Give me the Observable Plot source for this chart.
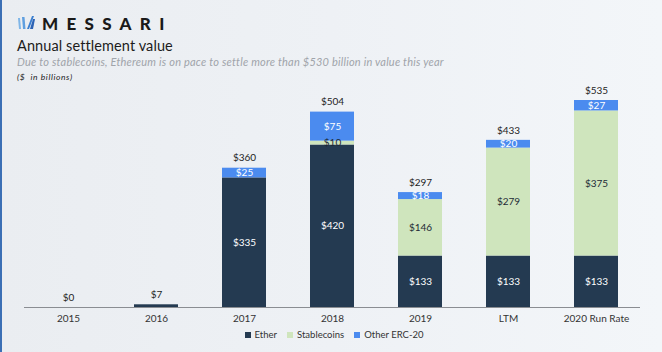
<!DOCTYPE html>
<html><head><meta charset="utf-8">
<script src="https://cdn.jsdelivr.net/npm/d3@7"></script>
<script src="https://cdn.jsdelivr.net/npm/@observablehq/plot@0.6"></script>
<style>
html,body{margin:0;padding:0;}
body{width:662px;height:352px;overflow:hidden;font-family:Lato,"DejaVu Sans",sans-serif;
 background:linear-gradient(90deg,#eaedf1 0%,#eef1f5 50%,#f3f6f9 100%);position:relative;}
#border{position:absolute;left:0;top:0;width:2px;height:352px;background:#3b6fb5;}
#logo{position:absolute;left:17px;top:13px;height:20px;display:flex;align-items:center;}
#logo span{font-weight:900;font-size:17px;letter-spacing:8.3px;color:#1a1a1a;margin-left:5px;}
#title{position:absolute;left:17px;top:37px;font-size:14.5px;color:#1c1c1c;letter-spacing:0.1px;}
#sub{position:absolute;left:17px;top:55px;font-size:11px;font-style:italic;color:#a0a4aa;letter-spacing:0.22px;}
#unit{position:absolute;left:17px;top:72px;font-size:8.5px;font-style:italic;color:#222;letter-spacing:0.6px;}
#chart{position:absolute;left:0;top:88px;}
#chart svg{overflow:visible;}
#legend{position:absolute;top:329px;left:0;width:662px;display:flex;justify-content:center;font-size:9.5px;color:#333;gap:10px;padding-left:6px;box-sizing:border-box;}
#legend .it{display:flex;align-items:center;}
#legend .sw{width:6px;height:6px;margin-right:4px;display:inline-block;}
</style></head>
<body>
<div id="border"></div>
<div id="logo"><svg width="20" height="16" viewBox="0 0 20 16">
<polygon points="1,3 3,3 4,14 2,14" fill="#7fb6e8"/>
<polygon points="5,2 7.5,2 8.5,14 6,14" fill="#5f9fe0"/>
<polygon points="10,14 12,14 17,1 15,1" fill="#3b7fd0"/>
<polygon points="13,14 16,14 18,4 16,4" fill="#2d63b5"/>
</svg><span>MESSARI</span></div>
<div id="title">Annual settlement value</div>
<div id="sub">Due to stablecoins, Ethereum is on pace to settle more than $530 billion in value this year</div>
<div id="unit">($&nbsp; in billions)</div>
<div id="chart"></div>
<div id="legend"></div>
<script>
const categories = ["2015","2016","2017","2018","2019","LTM","2020 Run Rate"];
const ether = [0,7,335,420,133,133,133];
const stablecoins = [0,0,0,10,146,279,375];
const other = [0,0,25,75,18,20,27];
const totals = [0,7,360,504,297,433,535];
const seriesNames = ["Ether","Stablecoins","Other ERC-20"];
const seriesColors = ["#243a51","#cfe5bd","#4b8bef"];
const labelColors = ["#ffffff","#1e2a36","#ffffff"];

const seriesArrays = [ether, stablecoins, other];
const rows = [];
categories.forEach((c,i)=>{
  seriesArrays.forEach((arr,j)=>{
    rows.push({cat:c, idx:i, series:seriesNames[j], value:arr[i], si:j});
  });
});
const totalRows = categories.map((c,i)=>({cat:c,total:totals[i],stack:ether[i]+stablecoins[i]+other[i]}));

const stackOpts = {x:"cat", y:"value", order: seriesNames};
const chart = Plot.plot({
  width:662, height:240,
  marginLeft:24, marginRight:22, marginTop:12, marginBottom:21,
  style:{background:"transparent", fontFamily:"Lato, 'DejaVu Sans', sans-serif", overflow:"visible"},
  x:{domain:categories, paddingInner:0.5, paddingOuter:0.25, label:null},
  y:{domain:[0,535], axis:null},
  color:{domain:seriesNames, range:seriesColors},
  marks:[
    Plot.barY(rows, Plot.stackY({...stackOpts, fill:"series"})),
    Plot.ruleY([0], {stroke:"#8a8d92", strokeWidth:1.2}),
    Plot.text(rows.filter(r=>r.idx>=2 && r.value>0), Plot.stackY({...stackOpts, text:d=>"$"+d.value,
      fill:d=>labelColors[d.si], fontSize:10, letterSpacing:0.3})),
    Plot.text(totalRows, {x:"cat", y:"stack", text:d=>"$"+d.total, dy:-10, fill:"#1e1e1e", fontSize:10, letterSpacing:0.3}),
    Plot.axisX({tickSize:0, tickPadding:7, fontSize:10, fill:"#333", letterSpacing:0.6, label:null})
  ]
});
document.getElementById("chart").appendChild(chart);

const lg = document.getElementById("legend");
seriesNames.forEach((n,i)=>{
  const it = document.createElement("div"); it.className="it";
  it.innerHTML = `<span class="sw" style="background:${seriesColors[i]}"></span>${n}`;
  lg.appendChild(it);
});
</script>
</body></html>
